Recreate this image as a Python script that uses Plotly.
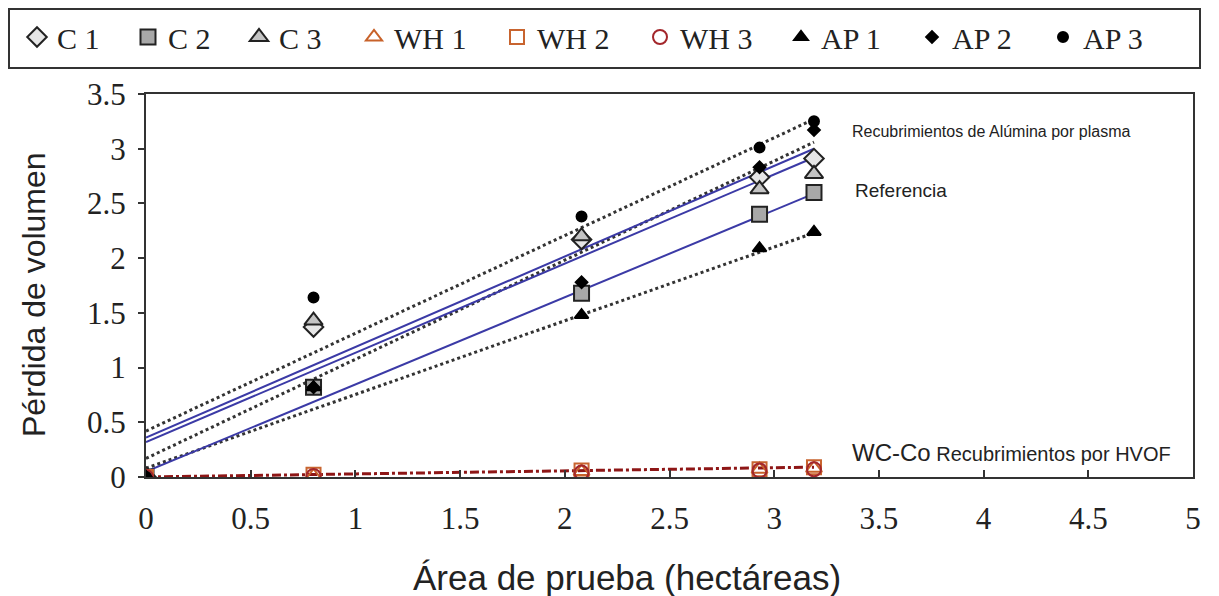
import plotly.graph_objects as go

# ---- data ----
area = [0, 0.8, 2.08, 2.93, 3.19]
c1 = [0.0, 1.37, 2.17, 2.74, 2.91]
c2 = [0.0, 0.82, 1.68, 2.40, 2.60]
c3 = [0.0, 1.43, 2.20, 2.63, 2.77]
wh1 = [0.0, 0.01, 0.05, 0.07, 0.08]
wh2 = [0.0, 0.02, 0.06, 0.07, 0.09]
wh3 = [0.0, 0.01, 0.04, 0.06, 0.07]
ap1 = [0.0, 0.82, 1.48, 2.09, 2.24]
ap2 = [0.0, 0.82, 1.78, 2.83, 3.17]
ap3 = [0.0, 1.64, 2.38, 3.01, 3.25]

fit_x = [0, 3.19]
ref_fits = [[0.36, 3.00], [0.32, 2.92], [0.05, 2.59]]     # solid blue (C series)
plasma_fits = [[0.42, 3.27], [0.17, 3.06], [0.08, 2.23]]  # dotted black (AP series)
hvof_fit = [0.0, 0.09]                                    # dash-dot red (WH series)

names = ["C 1", "C 2", "C 3", "WH 1", "WH 2", "WH 3", "AP 1", "AP 2", "AP 3"]
series = [c1, c2, c3, wh1, wh2, wh3, ap1, ap2, ap3]
symbols = ["diamond", "square", "triangle-up", "triangle-up-open", "square-open",
           "circle-open", "triangle-up", "diamond", "circle"]
fills = ["#e6e6e6", "#a8a8a8", "#c4c4c4", "#c8622a", "#c8642f", "#a3262b",
         "#000000", "#000000", "#000000"]
lines_c = ["#222222", "#222222", "#222222", "#c8622a", "#c8642f", "#a3262b",
           "#000000", "#000000", "#000000"]
sizes = [15, 15, 16, 14, 14, 14, 12, 9, 10]
legend_ids = ["legend", "legend", "legend", "legend2", "legend2", "legend2",
              "legend3", "legend3", "legend3"]

# figure is placed at an 8px page offset
W, H = 1211, 588
ML, MR, MT, MB = 138, 26, 86, 119
PW, PH = W - ML - MR, H - MT - MB

fig = go.Figure()

for f in plasma_fits:
    fig.add_trace(go.Scatter(x=fit_x, y=f, mode="lines", showlegend=False,
                             line=dict(color="#333333", width=3, dash="dot"),
                             hoverinfo="skip"))
for f in ref_fits:
    fig.add_trace(go.Scatter(x=fit_x, y=f, mode="lines", showlegend=False,
                             line=dict(color="#3b3aa6", width=2),
                             hoverinfo="skip"))
fig.add_trace(go.Scatter(x=fit_x, y=hvof_fit, mode="lines", showlegend=False,
                         line=dict(color="#8e1616", width=3, dash="dashdot"),
                         hoverinfo="skip"))

for n, s, sym, fc, lc, sz, lg in zip(names, series, symbols, fills, lines_c, sizes, legend_ids):
    fig.add_trace(go.Scatter(
        x=area, y=s, mode="markers", name=n, legend=lg,
        marker=dict(symbol=sym, size=sz, color=fc,
                    line=dict(color=lc, width=2))))

ann_font = "Liberation Sans, Arial, sans-serif"
fig.add_annotation(x=3.36, y=3.16, text="Recubrimientos de Alúmina por plasma",
                   showarrow=False, xanchor="left", yanchor="middle",
                   font=dict(family=ann_font, size=16, color="#222"))
fig.add_annotation(x=3.375, y=2.62, text="Referencia",
                   showarrow=False, xanchor="left", yanchor="middle",
                   font=dict(family=ann_font, size=19, color="#222"))
fig.add_annotation(x=3.36, y=0.22,
                   text="<span style='font-size:24px'>WC-Co</span> Recubrimientos por HVOF",
                   showarrow=False, xanchor="left", yanchor="middle",
                   font=dict(family=ann_font, size=20, color="#222"))

# axis titles (placed as in the reference)
fig.add_annotation(xref="paper", yref="paper",
                   x=(619 - ML) / PW, y=(469 - 569) / PH,
                   text="Área de prueba (hectáreas)", showarrow=False,
                   xanchor="center", yanchor="middle",
                   font=dict(family=ann_font, size=35, color="#222"))
fig.add_annotation(xref="paper", yref="paper",
                   x=(26 - ML) / PW, y=(469 - 287) / PH,
                   text="Pérdida de volumen", showarrow=False, textangle=-90,
                   xanchor="center", yanchor="middle",
                   font=dict(family=ann_font, size=32, color="#222"))

# legend frame
fig.add_shape(type="rect", xref="paper", yref="paper",
              x0=(1 - ML) / PW, x1=(1192 - ML) / PW,
              y0=(469 - 60) / PH, y1=(469 - 1) / PH,
              line=dict(color="#333", width=2), fillcolor="rgba(0,0,0,0)")

tick_font = dict(family="Liberation Serif, Times New Roman, serif", size=31, color="#222")
fig.update_xaxes(range=[0, 5], dtick=0.5, tick0=0, showgrid=False, zeroline=False,
                 showline=True, linecolor="#333", linewidth=2, mirror=True,
                 ticks="inside", ticklen=7, tickwidth=2, tickcolor="#333",
                 tickfont=tick_font, ticklabelstandoff=13, automargin=False)
fig.update_yaxes(range=[0, 3.5], dtick=0.5, tick0=0, showgrid=False, zeroline=False,
                 showline=True, linecolor="#333", linewidth=2, mirror=True,
                 ticks="outside", ticklen=6, tickwidth=2, tickcolor="#333",
                 tickfont=tick_font, ticklabelstandoff=6, automargin=False)

leg_font = dict(family="Liberation Serif, Times New Roman, serif", size=30, color="#222")
common = dict(orientation="h", xref="container", yref="container",
              y=1 - 3 / H, xanchor="left", yanchor="top",
              borderwidth=0, bgcolor="rgba(0,0,0,0)",
              entrywidthmode="pixels", font=leg_font)

fig.update_layout(
    width=W, height=H,
    margin=dict(l=ML, r=MR, t=MT, b=MB, autoexpand=False),
    plot_bgcolor="white", paper_bgcolor="white",
    legend=dict(x=9 / W, entrywidth=66, **common),
    legend2=dict(x=346 / W, entrywidth=98, **common),
    legend3=dict(x=773 / W, entrywidth=86, **common),
)

fig.write_html("out.html")
